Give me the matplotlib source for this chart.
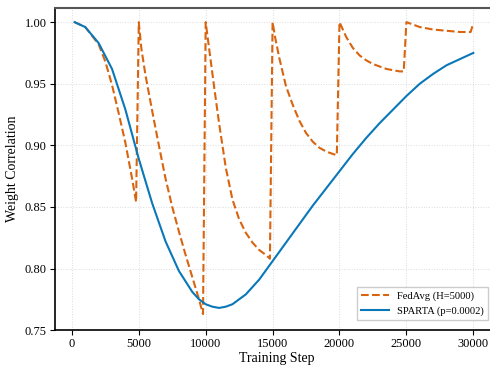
import matplotlib
matplotlib.use("Agg")
import matplotlib.pyplot as plt

plt.rcParams['font.family'] = ['Liberation Serif', 'DejaVu Serif']

# SPARTA (p=0.0002): smooth dip and recovery
sparta_steps = [200, 1000, 2000, 3000, 4000, 5000, 6000, 7000, 8000, 9000,
                9500, 10000, 10500, 11000, 11500, 12000, 13000, 14000, 15000, 16000,
                17000, 18000, 19000, 20000, 21000, 22000, 23000, 24000, 25000,
                26000, 27000, 28000, 29000, 30000]
sparta_corr = [1.000, 0.996, 0.983, 0.962, 0.929, 0.889, 0.853, 0.822, 0.798, 0.781,
               0.775, 0.771, 0.769, 0.768, 0.769, 0.771, 0.779, 0.791, 0.806, 0.821,
               0.836, 0.851, 0.865, 0.879, 0.893, 0.906, 0.918, 0.929, 0.940,
               0.950, 0.958, 0.965, 0.970, 0.975]

# FedAvg (H=5000): resets to 1.0 every 5000 steps
fedavg_steps = [200, 1000, 2000, 2500, 3000, 3500, 4000, 4500, 4800,
                5000, 5200, 5500, 6000, 6500, 7000, 7500, 8000, 8500, 9000, 9500, 9800,
                10000, 10300, 10600, 11000, 11500, 12000, 12500, 13000, 13500, 14000, 14500, 14800,
                15000, 15200, 15500, 16000, 16500, 17000, 17500, 18000, 18500, 19000, 19500, 19800,
                20000, 20500, 21000, 21500, 22000, 22500, 23000, 23500, 24000, 24500, 24800,
                25000, 25500, 26000, 27000, 28000, 29000, 29800, 30000]
fedavg_corr = [1.000, 0.996, 0.982, 0.968, 0.949, 0.926, 0.902, 0.873, 0.854,
               1.000, 0.978, 0.957, 0.928, 0.900, 0.873, 0.850, 0.830, 0.811, 0.793, 0.775, 0.763,
               1.000, 0.975, 0.950, 0.918, 0.882, 0.856, 0.840, 0.829, 0.821, 0.815, 0.811, 0.808,
               1.000, 0.987, 0.971, 0.948, 0.933, 0.920, 0.910, 0.903, 0.898, 0.895, 0.893, 0.892,
               1.000, 0.988, 0.979, 0.973, 0.969, 0.966, 0.964, 0.962, 0.961, 0.960, 0.960,
               1.000, 0.998, 0.996, 0.994, 0.993, 0.992, 0.992, 0.999]

fig = plt.figure(figsize=(4.9, 3.68), dpi=100)
ax = fig.add_axes([0.112, 0.103, 0.905, 0.875])

ax.plot(fedavg_steps, fedavg_corr, linestyle='--', color='#d9640f', linewidth=1.5,
        label='FedAvg (H=5000)')
ax.plot(sparta_steps, sparta_corr, color='#0a78b8', linewidth=1.5,
        label='SPARTA (p=0.0002)')

ax.set_xlim(-1270, 31870)
ax.set_ylim(0.75, 1.0114)
ax.set_xticks([0, 5000, 10000, 15000, 20000, 25000, 30000])
ax.set_yticks([0.75, 0.80, 0.85, 0.90, 0.95, 1.00])
ax.set_xlabel('Training Step', fontsize=10, labelpad=1)
ax.set_ylabel('Weight Correlation', fontsize=10, labelpad=4)
ax.tick_params(labelsize=8.9, direction='out', length=3.5, width=0.8, pad=2.5)

ax.grid(True, linestyle=':', color='#cccccc', linewidth=0.7, alpha=0.7)
ax.spines['right'].set_visible(False)
ax.spines['top'].set_color('#555555')
ax.spines['top'].set_linewidth(1.5)
ax.spines['left'].set_linewidth(1.2)
ax.spines['bottom'].set_linewidth(1.2)

ax.legend(loc='lower right', bbox_to_anchor=(488 / 490, 1 - 320 / 368),
          bbox_transform=fig.transFigure, fontsize=7.6, frameon=True,
          fancybox=False, edgecolor='#cccccc', framealpha=1.0,
          borderaxespad=0, handlelength=2.6)

fig.savefig('out.png', dpi=100)
